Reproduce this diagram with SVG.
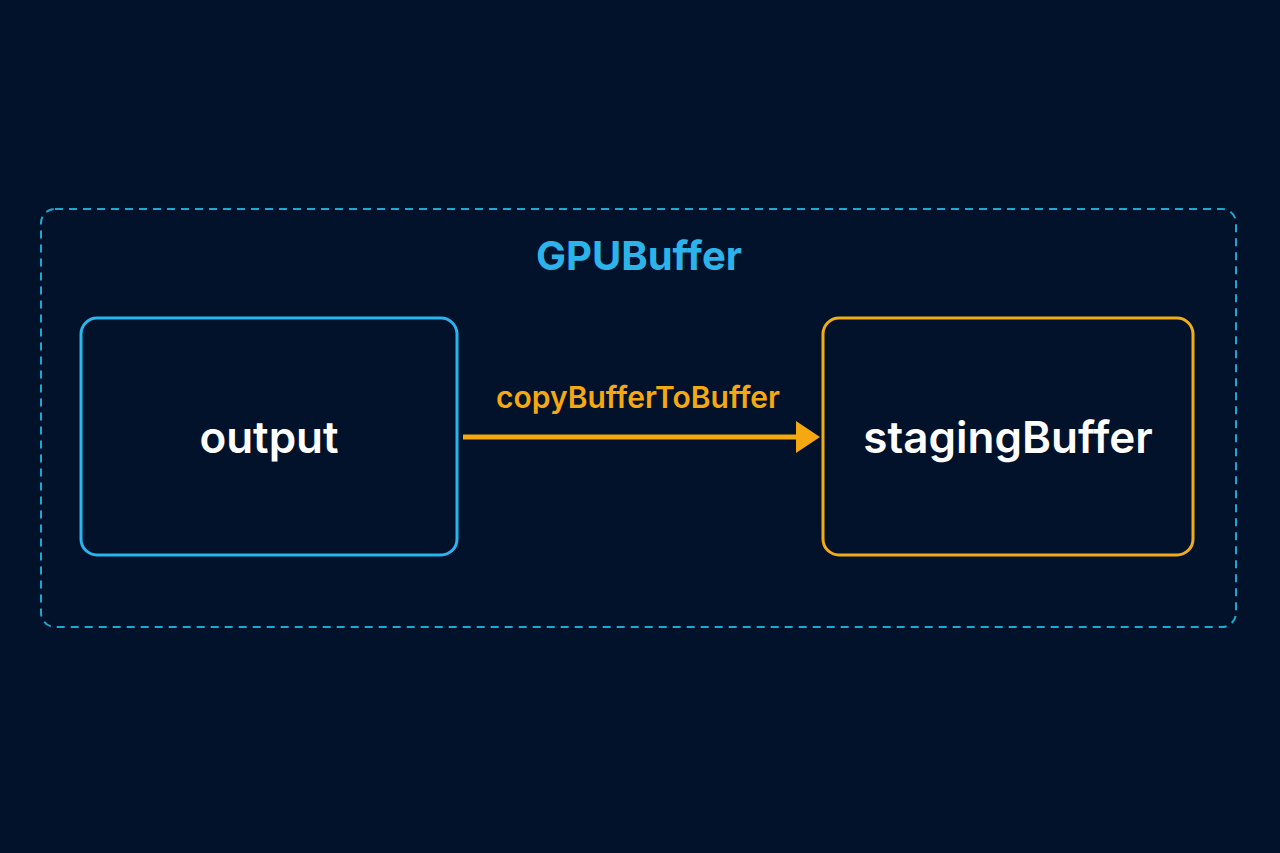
<svg xmlns="http://www.w3.org/2000/svg" width="1280" height="853" viewBox="0 0 1280 853">
<style>
.lbl{font-family:Inter,"Liberation Sans",sans-serif;font-weight:600;fill:#fff;font-size:44px;text-anchor:middle}
.box{fill:none;stroke-width:3}
</style>
<rect width="1280" height="853" fill="#02122b"/>
<g id="gpubuffer">
<rect x="41" y="209" width="1195" height="418" rx="14" fill="none" stroke="#1aa9cf" stroke-width="2" stroke-dasharray="8 6"/>
<text x="639" y="270" font-family="Inter,'Liberation Sans',sans-serif" font-weight="700" font-size="40" fill="#2bb3ea" text-anchor="middle">GPUBuffer</text>
</g>
<g id="output">
<rect class="box" x="81" y="318" width="376" height="237" rx="16" stroke="#29b6f0"/>
<text class="lbl" x="269" y="453">output</text>
</g>
<g id="stagingBuffer">
<rect class="box" x="823" y="318" width="370" height="237" rx="16" stroke="#f2ad16"/>
<text class="lbl" x="1008" y="453">stagingBuffer</text>
</g>
<g id="connectors">
<line x1="463" y1="437" x2="800" y2="437" stroke="#f5a80f" stroke-width="5"/>
<polygon points="796,421 820,437 796,453" fill="#f5a80f"/>
<text x="638" y="408" font-family="Inter,'Liberation Sans',sans-serif" font-weight="600" font-size="30" fill="#f5a80f" text-anchor="middle">copyBufferToBuffer</text>
</g>
</svg>
